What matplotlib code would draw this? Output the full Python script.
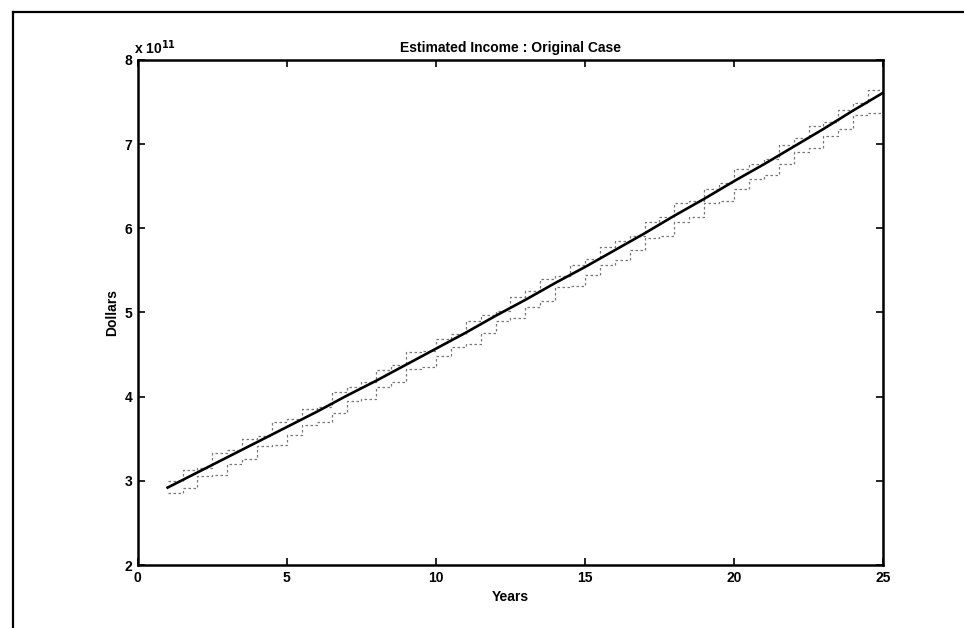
import matplotlib
matplotlib.use('Agg')
import matplotlib.pyplot as plt
from matplotlib.lines import Line2D

plt.rcParams['font.family'] = ['Liberation Sans', 'DejaVu Sans']
plt.rcParams['font.weight'] = 'bold'

# estimated income, units of 1e11 dollars
years = list(range(1, 26))
income = [2.92, 3.10, 3.28, 3.46, 3.64, 3.82, 4.01, 4.19, 4.38, 4.57,
          4.76, 4.96, 5.15, 5.35, 5.54, 5.74, 5.94, 6.15, 6.35, 6.56,
          6.76, 6.97, 7.18, 7.40, 7.61]

# simulated paths around the estimate, half-year steps
half_years = [1 + 0.5 * i for i in range(49)]
path_high = [3.00, 3.13, 3.15, 3.33, 3.37, 3.50, 3.53, 3.70, 3.74, 3.85,
             3.88, 4.05, 4.12, 4.18, 4.32, 4.38, 4.53, 4.54, 4.69, 4.75,
             4.90, 4.97, 5.02, 5.18, 5.25, 5.40, 5.43, 5.56, 5.63, 5.78,
             5.85, 5.91, 6.07, 6.14, 6.30, 6.33, 6.47, 6.54, 6.70, 6.77,
             6.82, 6.99, 7.07, 7.22, 7.26, 7.41, 7.49, 7.64, 7.71]
path_low = [2.86, 2.91, 3.06, 3.07, 3.20, 3.26, 3.41, 3.42, 3.55, 3.66,
            3.70, 3.81, 3.95, 3.97, 4.11, 4.17, 4.33, 4.35, 4.48, 4.59,
            4.63, 4.76, 4.90, 4.93, 5.07, 5.14, 5.30, 5.31, 5.45, 5.57,
            5.62, 5.74, 5.88, 5.91, 6.07, 6.14, 6.30, 6.33, 6.47, 6.59,
            6.63, 6.76, 6.91, 6.95, 7.10, 7.18, 7.35, 7.37, 7.52]

xticks = [0, 5, 10, 15, 20, 25]
yticks = [2, 3, 4, 5, 6, 7, 8]

fig = plt.figure(figsize=(9.64, 6.28), dpi=100)
ax = fig.add_axes([0.143, 0.1003, 0.773, 0.8042])

for path in (path_high, path_low):
    ax.plot(half_years, path, drawstyle='steps-post', color='#777777',
            lw=0.9, linestyle=(0, (2, 2)))
ax.plot(years, income, color='black', lw=1.9)

ax.set_xlim(0, 25)
ax.set_ylim(2, 8)
ax.set_xticks(xticks)
ax.set_yticks(yticks)
ax.tick_params(direction='in', length=5, width=1.2, top=True, right=True,
               labelsize=10, pad=4)
for s in ax.spines.values():
    s.set_linewidth(1.8)

ax.set_title('Estimated Income : Original Case', fontsize=10,
             fontweight='bold', pad=6)
ax.set_xlabel('Years', fontsize=10, fontweight='bold', labelpad=4)
ax.set_ylabel('Dollars', fontsize=10, fontweight='bold', labelpad=4)
ax.text(-0.005, 1.006, r'x 10$^{11}$', transform=ax.transAxes,
        fontsize=10, fontweight='bold', ha='left', va='bottom')

# page border
fig.add_artist(Line2D([0.0135, 1.0], [0.981, 0.981], color='black', lw=1.6))
fig.add_artist(Line2D([0.0135, 0.0135], [0.0, 0.981], color='black', lw=1.6))

fig.savefig('out.png', dpi=100)
